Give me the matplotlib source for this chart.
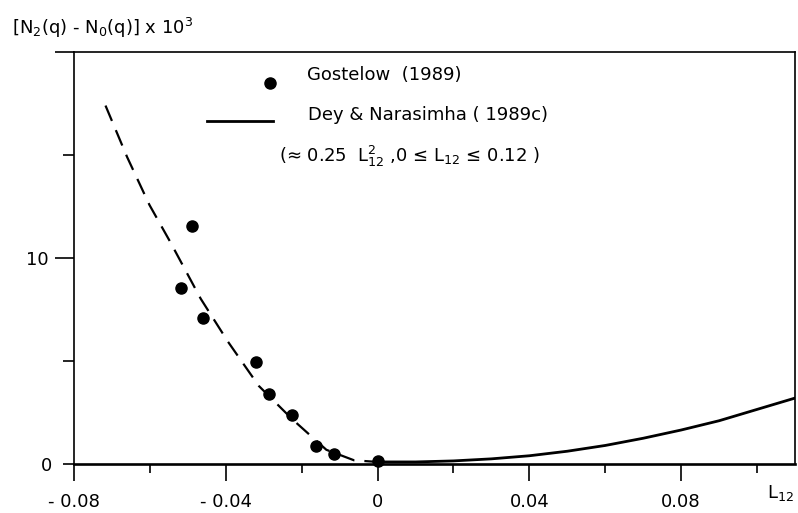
import matplotlib
matplotlib.use("Agg")
import matplotlib.pyplot as plt

plt.rcParams["font.family"] = "DejaVu Sans"
plt.rcParams["mathtext.default"] = "regular"
plt.rcParams["mathtext.fontset"] = "dejavusans"

# Gostelow (1989) measurements
gostelow_L12 = [-0.0518, -0.0488, -0.0461, -0.0320, -0.0285, -0.0225, -0.0162, -0.0116, 0.0]
gostelow_N = [8.56, 11.54, 7.09, 4.93, 3.42, 2.37, 0.89, 0.47, 0.15]

# dashed curve through the data, L12 < 0
dashed_L12 = [-0.0717, -0.0660, -0.0601, -0.0547, -0.0466, -0.0394, -0.0313,
              -0.0224, -0.0135, -0.0062, 0.0]
dashed_N = [17.4, 14.9, 12.57, 10.8, 8.02, 5.93, 3.79, 2.16, 0.69, 0.18, 0.1]

# Dey & Narasimha (1989c), ~0.25 L12^2
theory_L12 = [0.0, 0.01, 0.02, 0.03, 0.04, 0.05, 0.06, 0.07, 0.08, 0.09, 0.10, 0.11]
theory_N = [0.1, 0.1, 0.15, 0.25, 0.4, 0.62, 0.9, 1.25, 1.65, 2.1, 2.65, 3.2]

xticks = [-0.08, -0.04, 0, 0.04, 0.08]
xticklabels = ["- 0.08", "- 0.04", "0", "0.04", "0.08"]
xminor = [-0.06, -0.02, 0.02, 0.06, 0.10]

fig = plt.figure(figsize=(7.98, 5.13), dpi=100)
ax = fig.add_axes([74 / 798, 49 / 513, 721 / 798, 412 / 513])

ax.plot(dashed_L12, dashed_N, color="black", lw=1.6, ls=(0, (7.5, 4.5)))
ax.plot(theory_L12, theory_N, color="black", lw=2.0)
ax.plot(gostelow_L12, gostelow_N, "o", color="black", ms=8, clip_on=False)

ax.set_xlim(-0.08, 0.11)
ax.set_ylim(0, 20)

ax.set_xticks(xticks, xticklabels)
ax.set_xticks(xminor, minor=True)
ax.set_yticks([10, 20], ["10", ""])
ax.set_yticks([0, 5, 15], ["0", "", ""], minor=True)

ax.tick_params(axis="x", which="major", direction="out", length=12, width=1.2,
               pad=9, labelsize=13)
ax.tick_params(axis="x", which="minor", direction="out", length=6.5, width=1.2)
ax.tick_params(axis="y", which="major", direction="out", length=14, width=1.2,
               pad=4, labelsize=13)
ax.tick_params(axis="y", which="minor", direction="out", length=8, width=1.2,
               pad=8, labelsize=13)

for side in ["left", "top", "right"]:
    ax.spines[side].set_linewidth(1.2)
ax.spines["bottom"].set_linewidth(1.9)

# legend drawn by hand to follow the original layout
ax.plot([0.272], [0.925], "o", color="black", ms=8, transform=ax.transAxes)
ax.text(0.323, 0.944, "Gostelow  (1989)", fontsize=13, va="center",
        transform=ax.transAxes)
ax.plot([0.184, 0.276], [0.833, 0.833], color="black", lw=2.0,
        transform=ax.transAxes)
ax.text(0.325, 0.848, "Dey & Narasimha ( 1989c)", fontsize=13, va="center",
        transform=ax.transAxes)
ax.text(0.285, 0.746, "(≈ 0.25  L$^{2}_{12}$ ,0 ≤ L$_{12}$ ≤ 0.12 )",
        fontsize=13, va="center", transform=ax.transAxes)

fig.text(12 / 798, 1 - 28 / 513, "[N$_2$(q) - N$_0$(q)] x 10$^3$",
         fontsize=13, va="center", ha="left")
fig.text(780 / 798, 1 - 493 / 513, "L$_{12}$", fontsize=13, va="center",
         ha="center")

fig.savefig("out.png", dpi=100)
